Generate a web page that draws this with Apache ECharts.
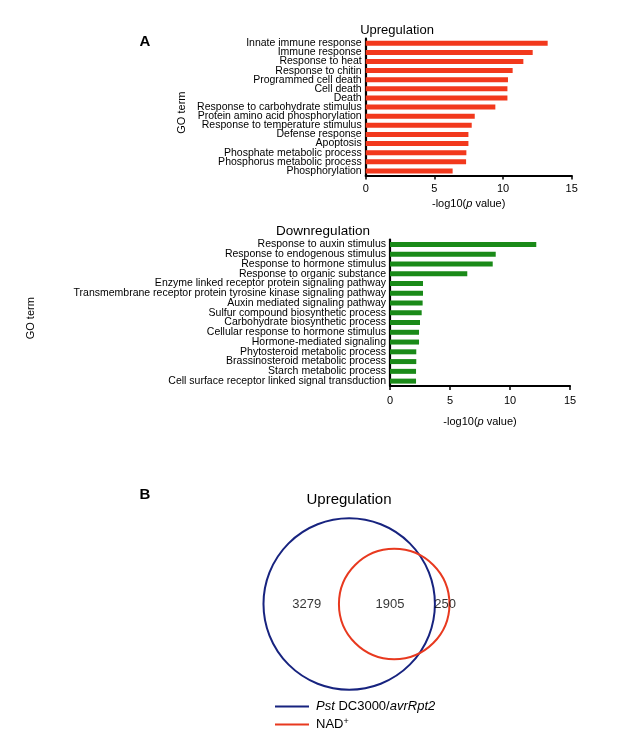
<!DOCTYPE html>
<html>
<head>
<meta charset="utf-8">
<script src="https://cdn.jsdelivr.net/npm/echarts@6/dist/echarts.min.js"></script>
<style>
html,body{margin:0;padding:0;background:#fff;}
#c{width:617px;height:748px;}
</style>
</head>
<body>
<div id="c"></div>
<script>
// ---- Data ----
const upTerms = [
  'Innate immune response','Immune response','Response to heat','Response to chitin',
  'Programmed cell death','Cell death','Death','Response to carbohydrate stimulus',
  'Protein amino acid phosphorylation','Response to temperature stimulus','Defense response',
  'Apoptosis','Phosphate metabolic process','Phosphorus metabolic process','Phosphorylation'
];
const upValues = [13.25, 12.16, 11.48, 10.70, 10.36, 10.32, 10.32, 9.44, 7.94, 7.72, 7.48, 7.48, 7.33, 7.31, 6.33];

const downTerms = [
  'Response to auxin stimulus','Response to endogenous stimulus','Response to hormone stimulus',
  'Response to organic substance','Enzyme linked receptor protein signaling pathway',
  'Transmembrane receptor protein tyrosine kinase signaling pathway','Auxin mediated signaling pathway',
  'Sulfur compound biosynthetic process','Carbohydrate biosynthetic process',
  'Cellular response to hormone stimulus','Hormone-mediated signaling','Phytosteroid metabolic process',
  'Brassinosteroid metabolic process','Starch metabolic process','Cell surface receptor linked signal transduction'
];
const downValues = [12.19, 8.81, 8.56, 6.44, 2.75, 2.75, 2.72, 2.64, 2.50, 2.42, 2.42, 2.19, 2.19, 2.17, 2.17];

const xAxisMin = 0, xAxisMax = 15, xAxisStep = 5;

// Venn: region counts (only Pst, both, only NAD+)
const vennRegions = ['Pst only', 'Both', 'NAD+ only'];
const vennCounts = [3279, 1905, 250];
const vennSetNames = ['Pst DC3000/avrRpt2', 'NAD+'];

// ---- Layout / style ----
const FONT = "'Liberation Sans', Arial, Helvetica, sans-serif";
const RED = '#f2391d', GREEN = '#1a8a18', BLUE = '#17237f', VRED = '#e8391f';

const setTotals = [vennCounts[0] + vennCounts[1], vennCounts[1] + vennCounts[2]];
// circle centers in venn-axis units (radius unit = sqrt(gene count))
const vennCenters = [[0, 0], [37.8, 0]];
const vennLabelX = [-35.7, 34.3, 80.5];

const chart = echarts.init(document.getElementById('c'), null, {renderer: 'canvas'});

function barXAxis(gridIndex, labelMargin, nameGap) {
  return {
    gridIndex, type: 'value', min: xAxisMin, max: xAxisMax, interval: xAxisStep,
    splitLine: {show: false},
    axisLine: {show: true, lineStyle: {color: '#000', width: 2.2}},
    axisTick: {show: true, length: 4, lineStyle: {color: '#000', width: 1.5}},
    axisLabel: {color: '#000', fontSize: 11, fontFamily: FONT, margin: labelMargin},
    name: '-log10({i|p} value)', nameLocation: 'middle', nameGap: nameGap,
    nameTextStyle: {color: '#000', fontSize: 11, fontFamily: FONT,
      rich: {i: {fontStyle: 'italic', fontSize: 11, fontFamily: FONT, color: '#000'}}}
  };
}
function barYAxis(gridIndex, cats, gap) {
  return {
    gridIndex, type: 'category', data: cats, inverse: true,
    axisLine: {show: true, lineStyle: {color: '#000', width: 2.2}},
    axisTick: {show: false},
    axisLabel: {color: '#000', fontSize: 10.5, fontFamily: FONT, margin: 4, interval: 0},
    name: 'GO term', nameLocation: 'middle', nameGap: gap,
    nameTextStyle: {color: '#000', fontSize: 11, fontFamily: FONT, padding: [0, 11, 0, 0]}
  };
}
function hiddenAxis(gridIndex) {
  return {gridIndex, type: 'value', min: -84, max: 84, show: false};
}

const option = {
  backgroundColor: '#fff',
  animation: false,
  grid: [
    {left: 365.7, width: 206, top: 38.7, height: 136.8},
    {left: 390, width: 180, top: 239.5, height: 146.5},
    {left: 249.2, width: 200, top: 504, height: 200}
  ],
  xAxis: [barXAxis(0, 7.5, 23), barXAxis(1, 9, 30), hiddenAxis(2)],
  yAxis: [barYAxis(0, upTerms, 178.7), barYAxis(1, downTerms, 354), hiddenAxis(2)],
  legend: {
    data: vennSetNames, orient: 'vertical', left: 270, top: 695,
    icon: 'rect', itemWidth: 34, itemHeight: 2, itemGap: 4,
    formatter: function (n) {
      return n === vennSetNames[0] ? '{i|Pst} DC3000/{i|avrRpt2}' : 'NAD{s|+}';
    },
    textStyle: {color: '#000', fontSize: 13, fontFamily: FONT, padding: [0, 0, 0, 2],
      rich: {
        i: {fontStyle: 'italic', fontSize: 13, fontFamily: FONT, color: '#000'},
        s: {fontSize: 9, fontFamily: FONT, color: '#000', verticalAlign: 'top', padding: [0, 0, 6, 0]}
      }}
  },
  graphic: [
    {type: 'text', x: 145, y: 42, style: {text: 'A', font: "bold 15px " + FONT, fill: '#000', align: 'center', verticalAlign: 'middle'}},
    {type: 'text', x: 397, y: 30, style: {text: 'Upregulation', font: "13px " + FONT, fill: '#000', align: 'center', verticalAlign: 'middle'}},
    {type: 'text', x: 323, y: 231, style: {text: 'Downregulation', font: "13.5px " + FONT, fill: '#000', align: 'center', verticalAlign: 'middle'}},
    {type: 'text', x: 145, y: 495, style: {text: 'B', font: "bold 15px " + FONT, fill: '#000', align: 'center', verticalAlign: 'middle'}},
    {type: 'text', x: 349, y: 500, style: {text: 'Upregulation', font: "15px " + FONT, fill: '#000', align: 'center', verticalAlign: 'middle'}}
  ],
  series: [
    {type: 'bar', xAxisIndex: 0, yAxisIndex: 0, data: upValues, barWidth: 5, itemStyle: {color: RED}},
    {type: 'bar', xAxisIndex: 1, yAxisIndex: 1, data: downValues, barWidth: 5, itemStyle: {color: GREEN}},
    ...vennSetNames.map(function (name, i) {
      return {
        type: 'custom', name: name, xAxisIndex: 2, yAxisIndex: 2,
        itemStyle: {color: i === 0 ? BLUE : VRED},
        data: [[vennCenters[i][0], vennCenters[i][1], setTotals[i]]],
        renderItem: function (params, api) {
          const c = api.coord([api.value(0), api.value(1)]);
          const r = api.size([Math.sqrt(api.value(2)), 0])[0];
          return {type: 'circle', shape: {cx: c[0], cy: c[1], r: r},
            style: {fill: 'none', stroke: i === 0 ? BLUE : VRED, lineWidth: 2}};
        }
      };
    }),
    {
      type: 'scatter', xAxisIndex: 2, yAxisIndex: 2, symbolSize: 0, silent: true,
      data: vennCounts.map(function (v, i) { return {name: vennRegions[i], value: [vennLabelX[i], 0, v]}; }),
      label: {show: true, position: 'inside', formatter: function (p) { return String(p.value[2]); },
        color: '#000', fontSize: 13, fontFamily: FONT}
    }
  ]
};
chart.setOption(option);
</script>
</body>
</html>
